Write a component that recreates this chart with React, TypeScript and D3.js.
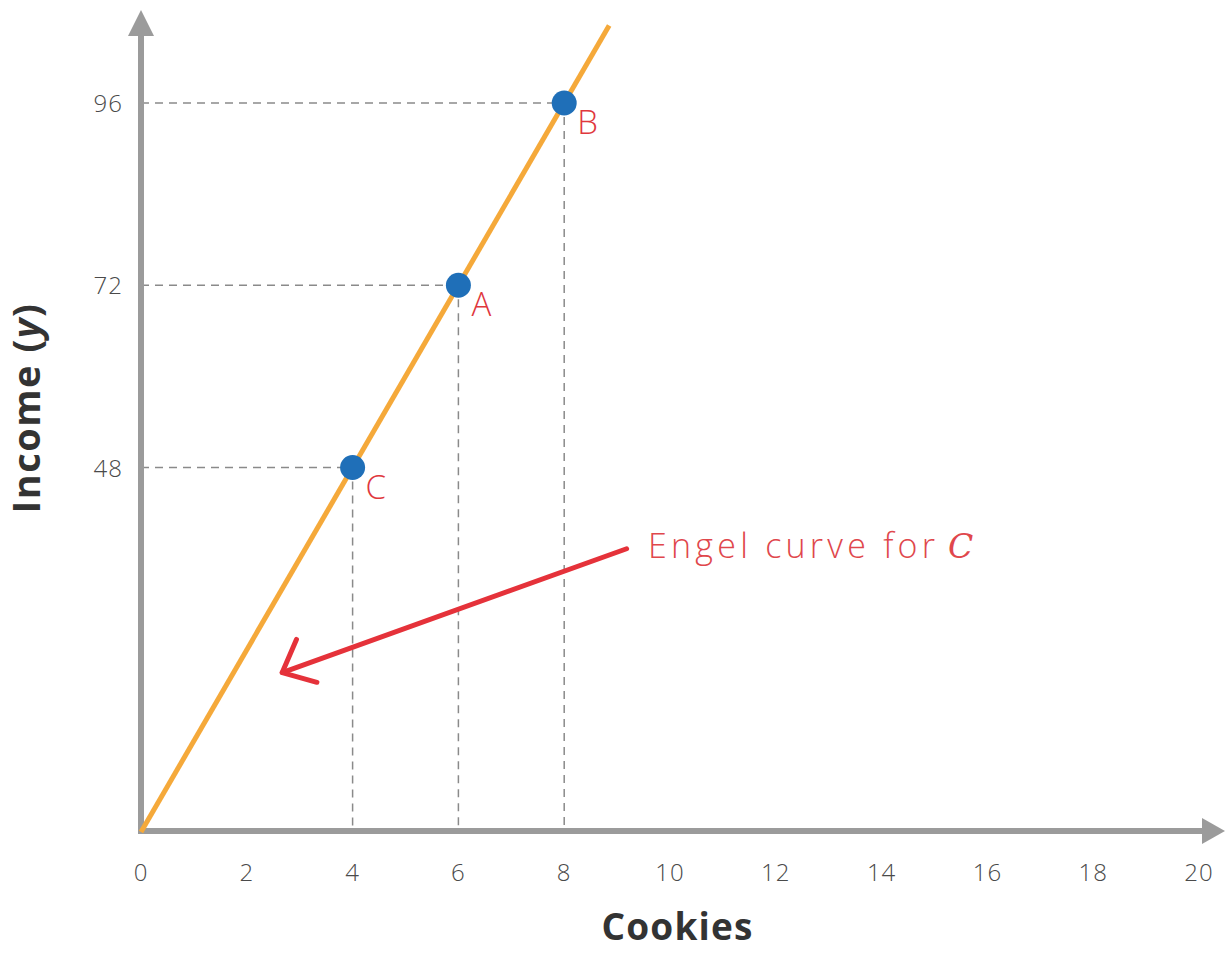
import React from "react";
import * as d3 from "d3";

const xTicks = [0, 2, 4, 6, 8, 10, 12, 14, 16, 18, 20];
const yTicks = [48, 72, 96];
const points = [
  { label: "C", x: 4, y: 48 },
  { label: "A", x: 6, y: 72 },
  { label: "B", x: 8, y: 96 },
];
const engelLine: [number, number][] = [
  [0, 0],
  [8.85, 106.2],
];
const annotationArrow = { from: [9.18, 37.3], to: [2.67, 21] };
const annotationText = "Engel curve for";

const W = 1227;
const H = 953;

export default function App() {
  const x = d3.scaleLinear().domain([0, 20]).range([141, 1199]);
  const y = d3.scaleLinear().domain([0, 96]).range([832, 103]);
  const line = d3
    .line<[number, number]>()
    .x((d) => x(d[0]))
    .y((d) => y(d[1]));

  const gray = "#9b9b9b";
  const x0 = x(0);
  const y0 = y(0);

  const ax = x(annotationArrow.to[0]);
  const ay = y(annotationArrow.to[1]);
  const fx = x(annotationArrow.from[0]);
  const fy = y(annotationArrow.from[1]);
  const ang = Math.atan2(fy - ay, fx - ax);
  const barb = 36;
  const b1 = [ax + barb * Math.cos(ang - 0.82), ay + barb * Math.sin(ang - 0.82)];
  const b2 = [ax + barb * Math.cos(ang + 0.62), ay + barb * Math.sin(ang + 0.62)];

  return (
    <svg
      width={W}
      height={H}
      style={{ position: "absolute", left: 0, top: 0, background: "#fff" }}
      fontFamily="'Open Sans', sans-serif"
    >
      {/* dashed guides */}
      {points.map((p) => (
        <g key={"g" + p.label} stroke="#8a8a8a" strokeWidth={1.5} strokeDasharray="8 6" fill="none">
          <line x1={x0} y1={y(p.y)} x2={x(p.x)} y2={y(p.y)} />
          <line x1={x(p.x)} y1={y(p.y)} x2={x(p.x)} y2={y0} />
        </g>
      ))}

      {/* axes */}
      <line x1={x0} y1={y0} x2={x0} y2={32} stroke={gray} strokeWidth={6} />
      <polygon points={`${x0},10 ${x0 - 13},36 ${x0 + 13},36`} fill={gray} />
      <line x1={x0 - 3} y1={y0 - 1} x2={1205} y2={y0 - 1} stroke={gray} strokeWidth={6} />
      <polygon points={`1225,${y0 - 1} 1202,${y0 - 14} 1202,${y0 + 12}`} fill={gray} />

      {/* engel line */}
      <path d={line(engelLine) || ""} stroke="#f5a93a" strokeWidth={5} fill="none" strokeLinecap="butt" />

      {/* points */}
      {points.map((p) => (
        <g key={p.label}>
          <circle cx={x(p.x)} cy={y(p.y)} r={12.5} fill="#1f6fb8" />
          <text x={x(p.x) + 13} y={y(p.y) + 31} fill="#e0373d" fontSize={33} fontWeight={300}>
            {p.label}
          </text>
        </g>
      ))}

      {/* tick labels */}
      {xTicks.map((t) => (
        <text key={"x" + t} x={x(t)} y={881} textAnchor="middle" fontSize={24} fill="#4a4a4a" fontWeight={300} letterSpacing={1}>
          {t}
        </text>
      ))}
      {yTicks.map((t) => (
        <text key={"y" + t} x={123} y={y(t) + 9} textAnchor="end" fontSize={24} fill="#4a4a4a" fontWeight={300} letterSpacing={1}>
          {t}
        </text>
      ))}

      {/* axis titles */}
      <text x={677} y={940} textAnchor="middle" fontSize={37} fontWeight={700} fill="#333" textLength={151} lengthAdjust="spacing">
        Cookies
      </text>
      <text
        transform={`translate(40, 408) rotate(-90)`}
        textAnchor="middle"
        fontSize={38}
        fontWeight={700}
        fill="#333"
        letterSpacing={1.5}
      >
        Income (<tspan fontStyle="italic">y</tspan>)
      </text>

      {/* annotation */}
      <g stroke="#e5323a" strokeWidth={5} fill="none" strokeLinecap="round" strokeLinejoin="round">
        <line x1={fx} y1={fy} x2={ax} y2={ay} />
        <polyline points={`${b1[0]},${b1[1]} ${ax},${ay} ${b2[0]},${b2[1]}`} />
      </g>
      <text
        x={648}
        y={558}
        fontSize={34}
        fill="#e0474c"
        fontWeight={300}
        textLength={287}
        lengthAdjust="spacing"
      >
        {annotationText}
      </text>
      <text x={948} y={558} fontSize={33} fill="#e0474c" fontFamily="'DejaVu Serif', serif" fontStyle="italic">
        C
      </text>
    </svg>
  );
}
